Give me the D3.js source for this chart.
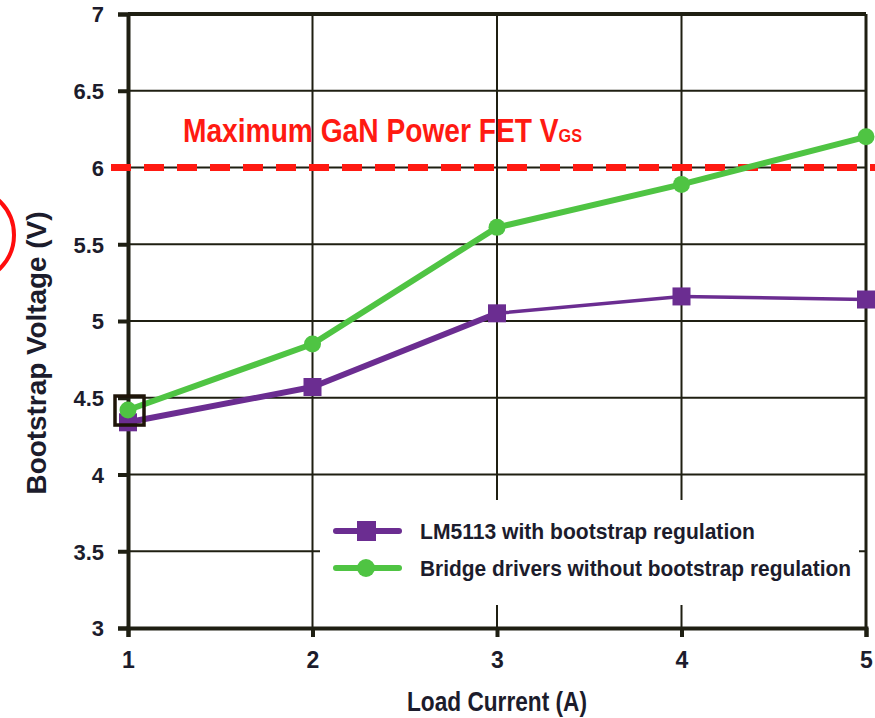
<!DOCTYPE html>
<html>
<head>
<meta charset="utf-8">
<script src="https://cdn.jsdelivr.net/npm/d3@7"></script>
<style>
  body { margin: 0; background: #fff; }
  text { font-family: "Liberation Sans", Arial, sans-serif; font-weight: bold; }
</style>
</head>
<body>
<div id="chart"></div>
<script>
const loadCurrent = [1, 2, 3, 4, 5];
const lm5113 = [4.34, 4.57, 5.05, 5.16, 5.14];
const bridge = [4.42, 4.85, 5.61, 5.89, 6.2];
const yTicks = [3, 3.5, 4, 4.5, 5, 5.5, 6, 6.5, 7];
const maxVgs = 6;
const seriesNames = ["LM5113 with bootstrap regulation", "Bridge drivers without bootstrap regulation"];

const W = 875, H = 718;
const margin = {top: 14, right: 9, bottom: 90, left: 128};

const svg = d3.select("#chart").append("svg")
    .attr("width", W)
    .attr("height", H);

const x = d3.scaleLinear().domain([1, 5]).range([margin.left, W - margin.right]);
const y = d3.scaleLinear().domain([3, 7]).range([H - margin.bottom, margin.top]);

const axisColor = "#1f1f12";
const textColor = "#1c1c2c";
const purple = "#6b2d91";
const green = "#4fc443";
const red = "#ff1a12";

// grid
svg.append("g")
    .selectAll("line")
    .data(yTicks)
    .join("line")
    .attr("x1", x(1)).attr("x2", x(5))
    .attr("y1", d=>y(d)).attr("y2", d=>y(d))
    .attr("stroke", axisColor)
    .attr("stroke-width", 2);

svg.append("g")
    .selectAll("line")
    .data(loadCurrent)
    .join("line")
    .attr("x1", d=>x(d)).attr("x2", d=>x(d))
    .attr("y1", y(7)).attr("y2", y(3))
    .attr("stroke", axisColor)
    .attr("stroke-width", 2);

// border top / right
svg.append("line")
    .attr("x1", x(1)).attr("x2", x(5)).attr("y1", y(7)).attr("y2", y(7))
    .attr("stroke", axisColor).attr("stroke-width", 4);
svg.append("line")
    .attr("x1", x(5)).attr("x2", x(5)).attr("y1", y(7)).attr("y2", y(3))
    .attr("stroke", axisColor).attr("stroke-width", 3);

// legend box (covers grid)
svg.append("rect")
    .attr("x", 320).attr("y", 500)
    .attr("width", 539).attr("height", 105)
    .attr("fill", "#fff");

// axes
const yAxis = d3.axisLeft(y).tickValues(yTicks).tickSize(10).tickPadding(14)
    .tickFormat(d=>d3.format("")(d));
const yG = svg.append("g")
    .attr("transform", `translate(${x(1)},0)`)
    .call(yAxis);
const xAxis = d3.axisBottom(x).tickValues(loadCurrent).tickSize(9).tickPadding(15)
    .tickFormat(d3.format("d"));
const xG = svg.append("g")
    .attr("transform", `translate(0,${y(3)})`)
    .call(xAxis);

[yG, xG].forEach(g=>{
    g.select(".domain").attr("stroke", axisColor).attr("stroke-width", 4);
    g.selectAll(".tick line").attr("stroke", axisColor).attr("stroke-width", 4);
    g.selectAll(".tick text")
        .attr("fill", textColor)
        .style("font-family", "\"Liberation Sans\", Arial, sans-serif")
        .style("font-weight", "bold");
});
yG.selectAll(".tick text").style("font-size", "22px").attr("dy", "0.36em");
xG.selectAll(".tick text").style("font-size", "23px");

// max VGS dashed line
svg.append("line")
    .attr("x1", 111).attr("x2", W)
    .attr("y1", y(maxVgs)).attr("y2", y(maxVgs))
    .attr("stroke", red)
    .attr("stroke-width", 7)
    .attr("stroke-dasharray", "20 13");

const vgsLabel = svg.append("text")
    .attr("x", 183).attr("y", 142)
    .attr("fill", red)
    .attr("textLength", 399)
    .attr("lengthAdjust", "spacingAndGlyphs")
    .style("font-size", "33px");
vgsLabel.append("tspan").text("Maximum GaN Power FET V");
vgsLabel.append("tspan").style("font-size", "19px").text("GS");

// series lines
const line = d3.line().x((d,i)=>x(loadCurrent[i])).y(d=>y(d));

const purpleWidths = [6, 6, 3.5, 3.5];
svg.append("g")
    .selectAll("line")
    .data(d3.pairs(lm5113.map((v,i)=>[loadCurrent[i], v])))
    .join("line")
    .attr("x1", d=>x(d[0][0])).attr("y1", d=>y(d[0][1]))
    .attr("x2", d=>x(d[1][0])).attr("y2", d=>y(d[1][1]))
    .attr("stroke", purple)
    .attr("stroke-linecap", "round")
    .attr("stroke-width", (d,i)=>purpleWidths[i]);

svg.append("g")
    .selectAll("rect")
    .data(lm5113)
    .join("rect")
    .attr("x", (d,i)=>x(loadCurrent[i]) - 9)
    .attr("y", d=>y(d) - 9)
    .attr("width", 18).attr("height", 18)
    .attr("fill", purple);

svg.append("path")
    .datum(bridge)
    .attr("d", line)
    .attr("fill", "none")
    .attr("stroke", green)
    .attr("stroke-width", 6)
    .attr("stroke-linejoin", "round");

svg.append("g")
    .selectAll("circle")
    .data(bridge)
    .join("circle")
    .attr("cx", (d,i)=>x(loadCurrent[i]))
    .attr("cy", d=>y(d))
    .attr("r", 8.5)
    .attr("fill", green);

// highlight box around first point
svg.append("rect")
    .attr("x", x(1) - 13).attr("y", y(bridge[0]) - 14)
    .attr("width", 29).attr("height", 29)
    .attr("fill", "none")
    .attr("stroke", "#1e1408")
    .attr("stroke-width", 3.5);

// red annotation circle at left edge
svg.append("circle")
    .attr("cx", -33).attr("cy", 235).attr("r", 47)
    .attr("fill", "none")
    .attr("stroke", "#ff0d0d")
    .attr("stroke-width", 4);

// legend
const legendItems = [
    {name: seriesNames[0], color: purple, shape: "square", y: 531, len: 335},
    {name: seriesNames[1], color: green, shape: "circle", y: 568, len: 431}
];
const lg = svg.append("g")
    .selectAll("g")
    .data(legendItems)
    .join("g")
    .attr("transform", d=>`translate(0,${d.y})`);
lg.append("line")
    .attr("x1", 336).attr("x2", 399)
    .attr("stroke", d=>d.color)
    .attr("stroke-width", 6)
    .attr("stroke-linecap", "round");
lg.filter(d=>d.shape === "square").append("rect")
    .attr("x", 357).attr("y", -10).attr("width", 19).attr("height", 20)
    .attr("fill", d=>d.color);
lg.filter(d=>d.shape === "circle").append("circle")
    .attr("cx", 366).attr("r", 9)
    .attr("fill", d=>d.color);
lg.append("text")
    .attr("x", 420).attr("y", 8)
    .attr("fill", textColor)
    .attr("textLength", d=>d.len)
    .attr("lengthAdjust", "spacingAndGlyphs")
    .style("font-size", "22px")
    .text(d=>d.name);

// axis titles
svg.append("text")
    .attr("x", x(3)).attr("y", 711)
    .attr("text-anchor", "middle")
    .attr("fill", textColor)
    .attr("textLength", 180)
    .attr("lengthAdjust", "spacingAndGlyphs")
    .style("font-size", "28px")
    .text("Load Current (A)");

svg.append("text")
    .attr("transform", "translate(46,353) rotate(-90)")
    .attr("text-anchor", "middle")
    .attr("fill", textColor)
    .attr("textLength", 283)
    .attr("lengthAdjust", "spacingAndGlyphs")
    .style("font-size", "27px")
    .text("Bootstrap Voltage (V)");
</script>
</body>
</html>
